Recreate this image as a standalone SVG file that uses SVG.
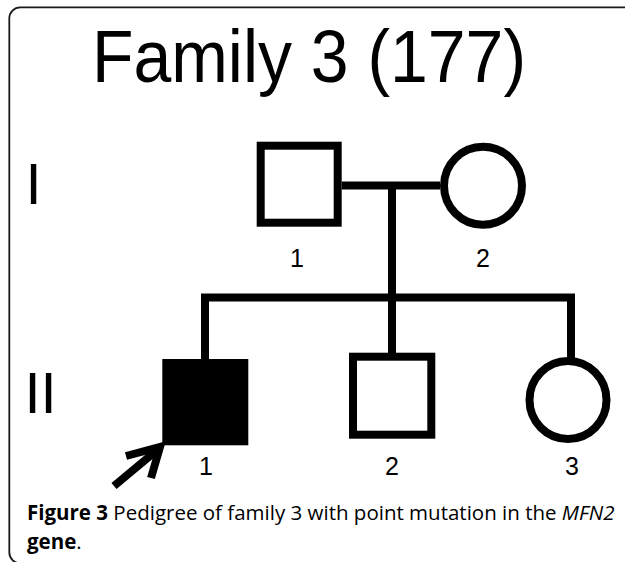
<svg xmlns="http://www.w3.org/2000/svg" width="625" height="562" viewBox="0 0 625 562">
<style>
.ln{fill:none;stroke:#000;stroke-width:8;stroke-linejoin:miter;stroke-linecap:butt}
.sym{fill:#fff;stroke:#000;stroke-width:8}
.aff{fill:#000;stroke:none}
.num{font-family:"Liberation Sans",Arial,sans-serif;font-size:25px;fill:#000;text-anchor:middle}
.gen{font-family:"Liberation Sans",Arial,sans-serif;font-size:58px;fill:#000}
.cap{font-family:"Open Sans","Noto Sans",sans-serif;font-size:20.5px;fill:#000}
</style>
<rect x="9.3" y="7.3" width="700" height="556" rx="11" ry="11" fill="#fff" stroke="#1a1a1a" stroke-width="1.8"/>
<text x="92" y="82" font-family="'Liberation Sans',Arial,sans-serif" font-size="74" textLength="434" lengthAdjust="spacingAndGlyphs" fill="#000">Family 3 (177)</text>
<text class="gen" x="25.5" y="204.3">I</text>
<text class="gen" x="24.5" y="413.3">II</text>
<g id="connectors">
<path class="ln" d="M341.7,185.5 H440"/>
<path class="ln" d="M392,185.5 V353"/>
<path class="ln" d="M205,359 V297.5 H571 V361"/>
</g>
<g id="I-1"><rect class="sym" x="260.7" y="145.7" width="77" height="77"/><text class="num" x="297" y="266.5">1</text></g>
<g id="I-2"><circle class="sym" cx="483" cy="185.8" r="39"/><text class="num" x="483" y="266.5">2</text></g>
<g id="II-1"><rect class="aff" x="162.3" y="359" width="86" height="86.3"/><text class="num" x="206" y="475">1</text></g>
<g id="II-2"><rect class="sym" x="353" y="356.7" width="78.3" height="78"/><text class="num" x="392" y="475">2</text></g>
<g id="II-3"><ellipse class="sym" cx="568" cy="400" rx="38.5" ry="39"/><text class="num" x="572" y="475">3</text></g>
<g id="proband-arrow">
<path class="ln" d="M114,486 L156,451"/>
<path class="ln" d="M126,456 L160,447 L151,478"/>
</g>
<text class="cap" x="27" y="520"><tspan font-weight="bold">Figure 3</tspan> Pedigree of family 3 with point mutation in the <tspan font-style="italic">MFN2</tspan></text>
<text class="cap" x="27" y="549"><tspan font-weight="bold">gene</tspan>.</text>
</svg>
